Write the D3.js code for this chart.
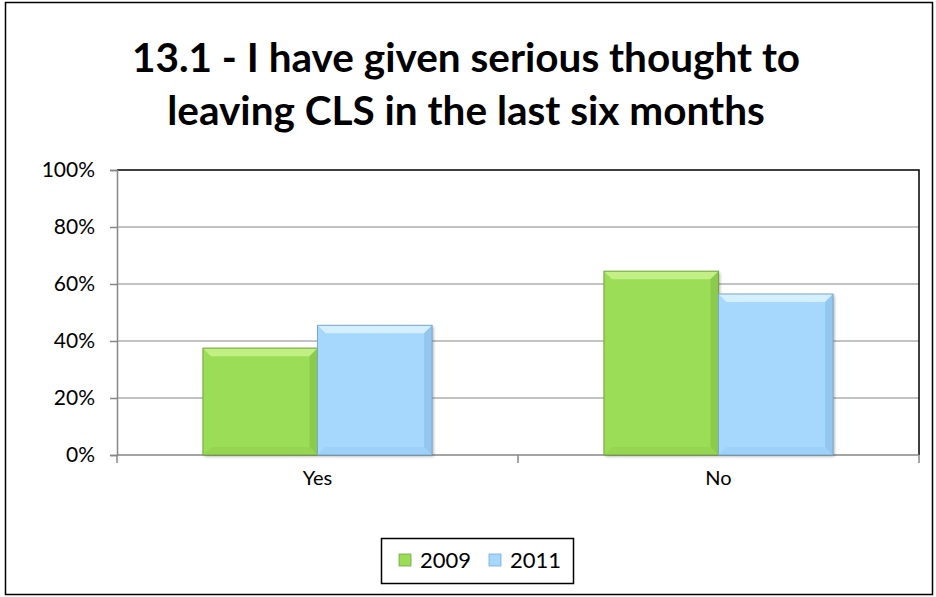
<!DOCTYPE html>
<html>
<head>
<meta charset="utf-8">
<script src="https://cdn.jsdelivr.net/npm/d3@7/dist/d3.min.js"></script>
<style>
  html, body { margin: 0; padding: 0; background: #fff; }
  svg { display: block; }
  text { font-family: Lato, "Open Sans", sans-serif; }
</style>
</head>
<body>
<svg id="chart" width="936" height="597"></svg>
<script>
// Survey responses (share of respondents)
const categories = ["Yes", "No"];
const seriesNames = ["2009", "2011"];
const values2009 = [0.375, 0.645];
const values2011 = [0.455, 0.565];
const yTicks = [0, 0.2, 0.4, 0.6, 0.8, 1.0];
const titleLines = ["13.1 - I have given serious thought to", "leaving CLS in the last six months"];

const palette = {
  "2009": { base: "#9cdd58", light: "#c2f084", dark: "#84c347", edge: "#70a63c" },
  "2011": { base: "#a6d8fd", light: "#d4f0ff", dark: "#8cc0ea", edge: "#7ba6cf" }
};

const svg = d3.select("#chart");
const W = 936, H = 597;

// outer chart frame
svg.append("rect")
  .attr("x", 5.5).attr("y", 2.5).attr("width", W - 9).attr("height", H - 5)
  .attr("fill", "#fff").attr("stroke", "#000").attr("stroke-width", 1.5);

// title
const title = svg.append("text")
  .attr("text-anchor", "middle")
  .attr("font-weight", "bold")
  .attr("font-size", 40.5)
  .attr("fill", "#000");
title.selectAll("tspan").data(titleLines).join("tspan")
  .attr("x", 466)
  .attr("y", (d, i) => 72 + i * 53)
  .text(d => d);

const plot = { left: 117, right: 919, top: 170, bottom: 455 };

const y = d3.scaleLinear().domain([0, 1]).range([plot.bottom, plot.top]);
const x0 = d3.scaleBand().domain(categories).range([plot.left, plot.right]).paddingInner(0).paddingOuter(0);
const x1 = d3.scaleBand().domain(seriesNames).range([0, x0.bandwidth()]).paddingOuter(0.75).paddingInner(0);

// gridlines
svg.append("g")
  .selectAll("line").data(yTicks.filter(t => t > 0 && t < 1)).join("line")
  .attr("x1", plot.left).attr("x2", plot.right)
  .attr("y1", d => y(d)).attr("y2", d => y(d))
  .attr("stroke", "#868686").attr("stroke-width", 1);

// plot-area border (top and right)
svg.append("path")
  .attr("d", `M${plot.left},${plot.top}H${plot.right}V${plot.bottom}`)
  .attr("fill", "none").attr("stroke", "#000").attr("stroke-width", 1.5);

// y axis
const yAxis = d3.axisLeft(y).tickValues(yTicks).tickFormat(d3.format(".0%")).tickSize(7).tickPadding(15);
const gy = svg.append("g").attr("transform", `translate(${plot.left},0)`).call(yAxis);
gy.select(".domain").attr("stroke", "#868686").attr("stroke-width", 1.5);
gy.selectAll(".tick line").attr("stroke", "#868686").attr("stroke-width", 1.5);
gy.selectAll(".tick text").attr("font-size", 21).attr("fill", "#000")
  .attr("font-family", "Lato, sans-serif");

// x axis: ticks at category boundaries
svg.append("line")
  .attr("x1", plot.left).attr("x2", plot.right)
  .attr("y1", plot.bottom).attr("y2", plot.bottom)
  .attr("stroke", "#868686").attr("stroke-width", 1.5);
const boundaries = categories.map(c => x0(c)).concat([x0(categories[categories.length - 1]) + x0.bandwidth()]);
svg.append("g").selectAll("line").data(boundaries).join("line")
  .attr("x1", d => d).attr("x2", d => d)
  .attr("y1", plot.bottom).attr("y2", plot.bottom + 8)
  .attr("stroke", "#868686").attr("stroke-width", 1.5);
svg.append("g").selectAll("text").data(categories).join("text")
  .attr("x", d => x0(d) + x0.bandwidth() / 2)
  .attr("y", 485)
  .attr("text-anchor", "middle")
  .attr("font-size", 20)
  .text(d => d);

// bars with bevelled edges
const rows = categories.map((c, i) => ({
  cat: c,
  items: [
    { key: "2009", v: values2009[i] },
    { key: "2011", v: values2011[i] }
  ]
}));

const defs = svg.append("defs");
const blur = defs.append("filter").attr("id", "shadow").attr("x", "-20%").attr("y", "-20%").attr("width", "140%").attr("height", "140%");
blur.append("feGaussianBlur").attr("stdDeviation", 1.5);

const bevel = 8;
const groups = svg.append("g").selectAll("g").data(rows).join("g")
  .attr("transform", d => `translate(${x0(d.cat)},0)`);

const bars = groups.selectAll("g").data(d => d.items).join("g");

bars.each(function(d) {
  const g = d3.select(this);
  const c = palette[d.key];
  const bx = x1(d.key), bw = x1.bandwidth();
  const by = y(d.v), bh = plot.bottom - y(d.v);
  // soft shadow
  g.append("rect").attr("x", bx + 1.5).attr("y", by + 1.5).attr("width", bw).attr("height", bh)
    .attr("fill", "#000").attr("opacity", 0.3).attr("filter", "url(#shadow)");
  g.append("rect").attr("x", bx).attr("y", by).attr("width", bw).attr("height", bh).attr("fill", c.base);
  const b = Math.min(bevel, bh / 2);
  // top bevel
  g.append("path").attr("d", `M${bx},${by}H${bx + bw}L${bx + bw - b},${by + b}H${bx + b}Z`).attr("fill", c.light);
  // right bevel
  g.append("path").attr("d", `M${bx + bw},${by}L${bx + bw - b},${by + b}V${by + bh - b}L${bx + bw},${by + bh}Z`).attr("fill", c.dark).attr("opacity", 0.7);
  // bottom bevel
  g.append("path").attr("d", `M${bx},${by + bh}L${bx + b},${by + bh - b}H${bx + bw - b}L${bx + bw},${by + bh}Z`).attr("fill", c.dark).attr("opacity", 0.3);
  g.append("rect").attr("x", bx).attr("y", by).attr("width", bw).attr("height", bh)
    .attr("fill", "none").attr("stroke", c.edge).attr("stroke-width", 1);
});

// legend
const legend = svg.append("g");
legend.append("rect").attr("x", 381.5).attr("y", 538.5).attr("width", 192).attr("height", 45)
  .attr("fill", "#fff").attr("stroke", "#000").attr("stroke-width", 1.5);
const legendX = [399, 489];
seriesNames.forEach((s, i) => {
  const c = palette[s];
  legend.append("rect").attr("x", legendX[i]).attr("y", 554).attr("width", 12).attr("height", 12)
    .attr("fill", c.base).attr("stroke", c.edge).attr("stroke-width", 0.8);
  legend.append("text").attr("x", legendX[i] + 21).attr("y", 568)
    .attr("font-size", 22).text(s);
});
</script>
</body>
</html>
